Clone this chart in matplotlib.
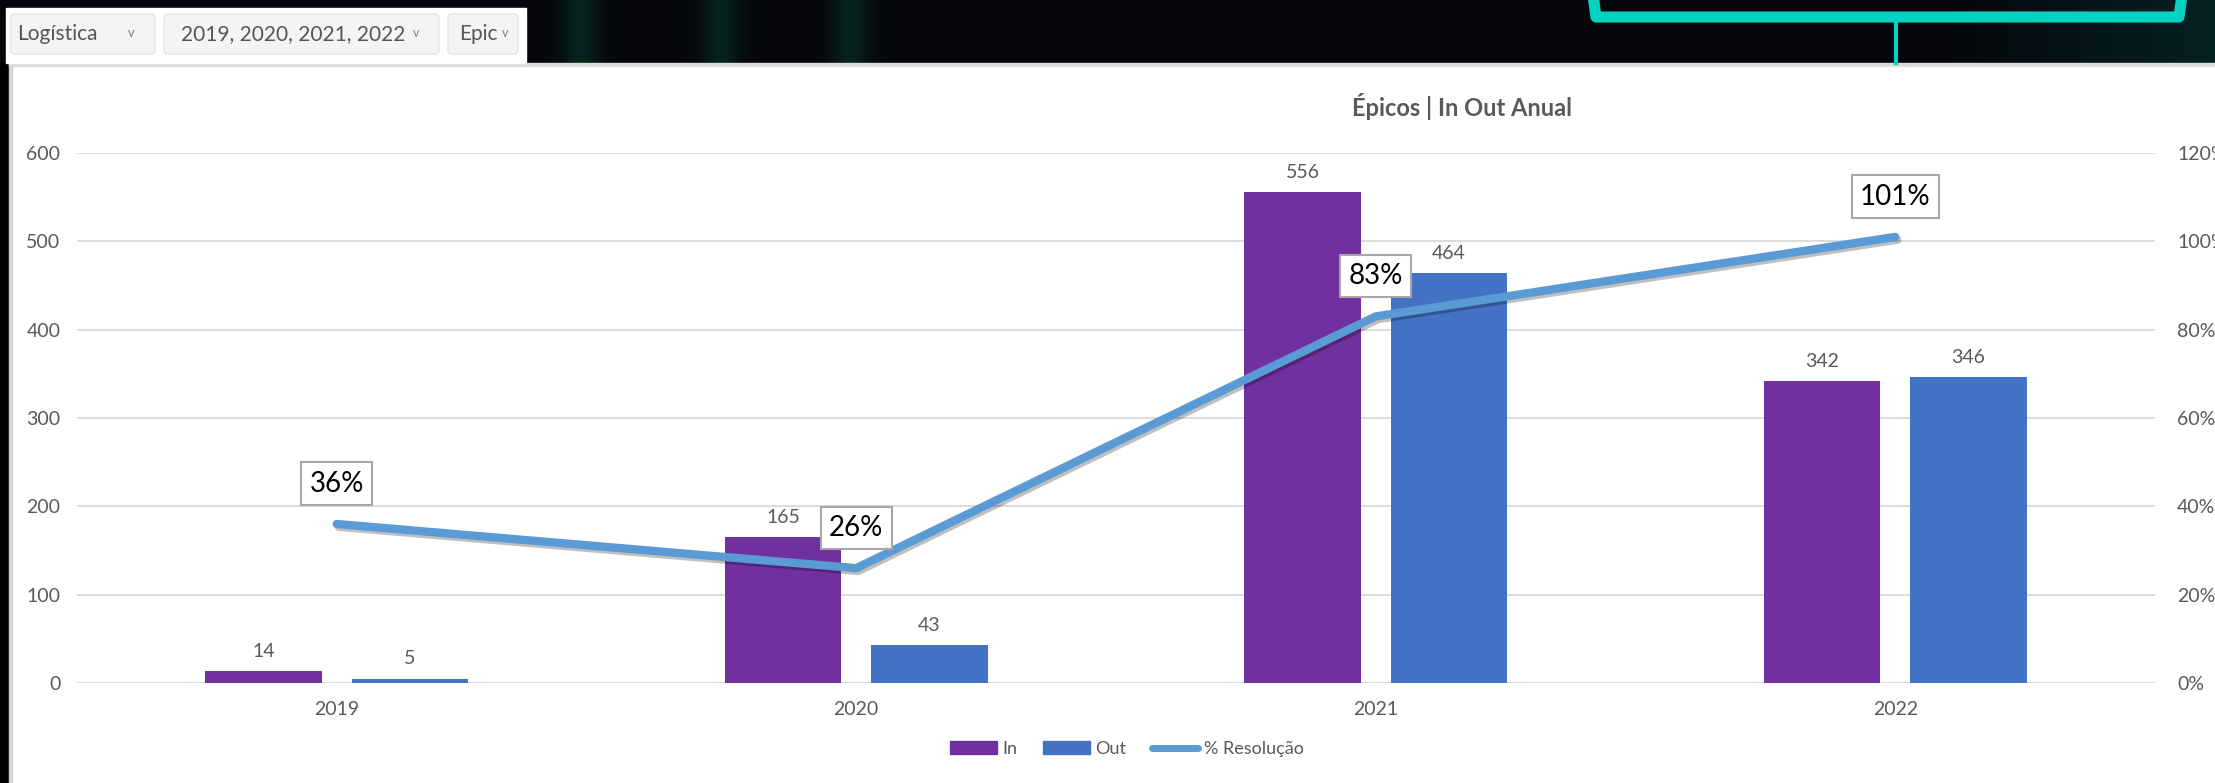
import matplotlib.pyplot as plt
import matplotlib.patheffects as pe
from matplotlib.patches import Rectangle, FancyBboxPatch
from matplotlib.lines import Line2D
from matplotlib.ticker import PercentFormatter
import numpy as np

plt.rcParams['font.family'] = ['Lato', 'DejaVu Sans']

# dados do gráfico
anos = ["2019", "2020", "2021", "2022"]
entradas = [14, 165, 556, 342]
saidas = [5, 43, 464, 346]
resolucao = [36, 26, 83, 101]
filtros = ["Logística", "2019, 2020, 2021, 2022", "Epic"]

ROXO = "#7030A0"
AZUL = "#4472C4"
AZUL_LINHA = "#5B9BD5"
CINZA = "#595959"

W, H = 2215, 783
fig = plt.figure(figsize=(W / 100, H / 100), dpi=100)

# fundo em pixels (y para baixo)
fundo = fig.add_axes([0, 0, 1, 1], zorder=-1)
fundo.set_xlim(0, W)
fundo.set_ylim(H, 0)
fundo.axis("off")
fundo.add_patch(Rectangle((0, 0), W, H, color="white"))

# faixa escura do topo
xs = np.arange(W)
faixa = np.zeros((1, W, 3))
faixa[..., 0] = 0.02
faixa[..., 1] = 0.03
faixa[..., 2] = 0.05
for c in [580, 720, 850]:
    brilho = np.exp(-((xs - c) / 18) ** 2)
    faixa[0, :, 1] += 0.11 * brilho
    faixa[0, :, 2] += 0.06 * brilho
faixa[0, :, 1] += 0.10 * np.clip((xs - 1950) / 265, 0, 1)
faixa[0, :, 2] += 0.09 * np.clip((xs - 1950) / 265, 0, 1)
fundo.imshow(np.clip(faixa, 0, 1), aspect="auto", extent=[0, W, 63, 0], zorder=1)

# barra preta à esquerda e bordas
fundo.add_patch(Rectangle((0, 63), 9, H - 63, color="black", zorder=2))
fundo.add_patch(Rectangle((9, 63), 3, H - 63, color="#D4D4D4", zorder=2))
fundo.add_patch(Rectangle((9, 63), W, 3, color="#DCDCDC", zorder=2))

# desenho em ciano no topo
fundo.plot([1593, 1596, 2179, 2182], [-5, 17, 17, -5], color="#03D2C3", lw=8,
           solid_joinstyle="round", solid_capstyle="round", zorder=3)
fundo.plot([1896, 1896], [20, 63], color="#03D2C3", lw=3, zorder=3)

# filtros
fundo.add_patch(Rectangle((6, 8), 520, 55, color="white", zorder=2))
botoes = [(11, 155), (164, 439), (448, 518)]
textos_x = [17, 181, 459]
setas = [131, 416, 505]
for nome, (x0, x1), xt, xsq in zip(filtros, botoes, textos_x, setas):
    fundo.add_patch(FancyBboxPatch((x0, 14), x1 - x0, 40,
                                   boxstyle="round,pad=0,rounding_size=4",
                                   fc="#F4F4F4", ec="#E4E4E4", lw=1, zorder=3))
    fundo.text(xt, 34, nome, fontsize=15, color="#555555",
               va="center", ha="left", zorder=4)
    fundo.text(xsq, 33, "v", fontsize=9, color="#808080",
               va="center", ha="center", zorder=4)

# gráfico principal
ax = fig.add_axes([77 / W, 100 / H, 2078 / W, 530 / H])
ax.patch.set_visible(False)
x = np.arange(len(anos))
larg = 0.225
b1 = ax.bar(x - 0.141, entradas, larg, color=ROXO, label="In", zorder=2)
b2 = ax.bar(x + 0.141, saidas, larg, color=AZUL, label="Out", zorder=2)
ax.bar_label(b1, padding=8, fontsize=14, color=CINZA)
ax.bar_label(b2, padding=8, fontsize=14, color=CINZA)

ax.set_xlim(-0.5, 3.5)
ax.set_ylim(0, 600)
ax.set_yticks(range(0, 601, 100))
ax.set_xticks(x, anos)
ax.yaxis.grid(True, color="#D9D9D9", lw=1.3, zorder=0)
ax.set_axisbelow(True)
ax.tick_params(axis="both", length=0, labelsize=14, labelcolor=CINZA)
ax.tick_params(axis="y", pad=12)
ax.tick_params(axis="x", pad=13)
for s in ax.spines.values():
    s.set_visible(False)

# linha de % resolução no eixo secundário
ax2 = ax.twinx()
ax2.set_ylim(0, 1.2)
ax2.set_yticks(np.arange(0, 1.21, 0.2))
ax2.yaxis.set_major_formatter(PercentFormatter(1.0, decimals=0))
ax2.tick_params(axis="y", length=0, labelsize=14, labelcolor=CINZA, pad=16)
for s in ax2.spines.values():
    s.set_visible(False)

pct = np.array(resolucao) / 100
ax2.plot(x, pct, color=AZUL_LINHA, lw=6, solid_capstyle="round",
         solid_joinstyle="round", zorder=3,
         path_effects=[pe.SimpleLineShadow(offset=(1.5, -2), alpha=0.25),
                       pe.Normal()])
for xi, v in zip(x, resolucao):
    ax2.annotate(f"{v}%", (xi, v / 100), xytext=(0, 29),
                 textcoords="offset points", ha="center", va="center",
                 fontsize=20, color="black", zorder=4,
                 bbox=dict(boxstyle="square,pad=0.3", fc="white",
                           ec="#A6A6A6", lw=1.5))

# título
fig.text(1462 / W, 1 - 106 / H, "Épicos | In Out Anual", ha="center",
         va="center", fontsize=17, fontweight="bold", color=CINZA)

# legenda
alcas = [Rectangle((0, 0), 1, 1, color=ROXO),
         Rectangle((0, 0), 1, 1, color=AZUL),
         Line2D([0], [0], color=AZUL_LINHA, lw=5, solid_capstyle="round")]
fig.legend(alcas, ["In", "Out", "% Resolução"], loc="center",
           bbox_to_anchor=(1127 / W, 1 - 749 / H), ncol=3, frameon=False,
           fontsize=13, labelcolor=CINZA, handlelength=2.6,
           handletextpad=0.3, columnspacing=1.4)

fig.savefig("out.png", dpi=100)
